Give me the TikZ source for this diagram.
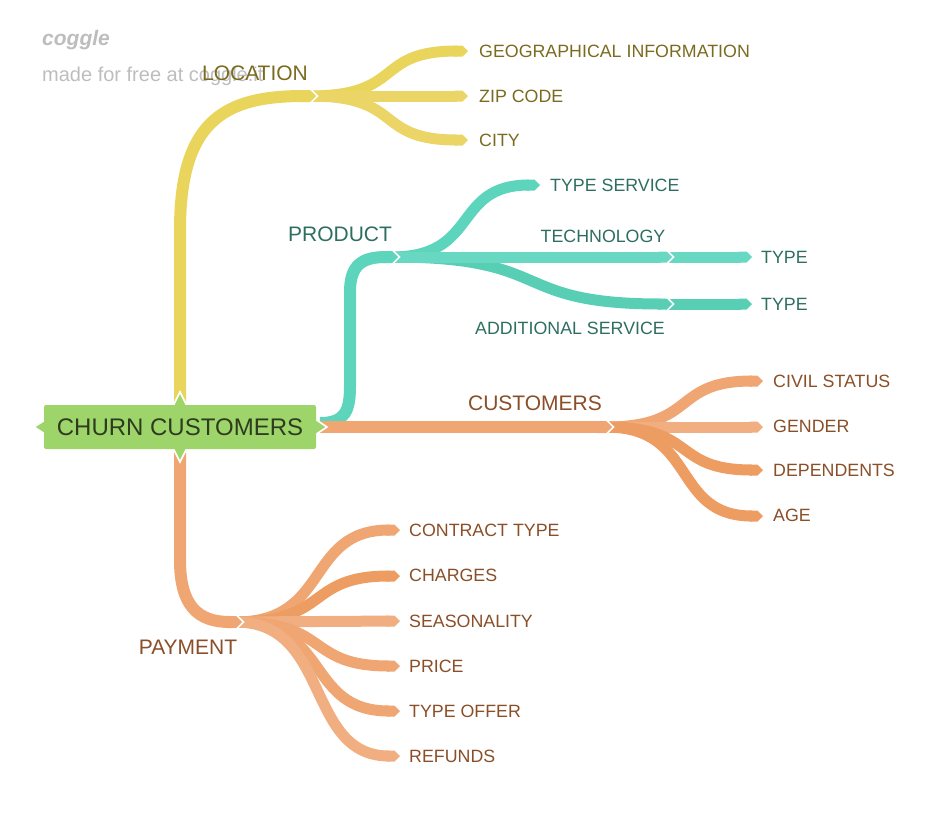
\documentclass[tikz,border=0pt]{standalone}
\usepackage{fontspec}
\setmainfont{Liberation Sans}
\usetikzlibrary{arrows.meta,calc}
\newcommand\myfs[1]{\fontsize{#1}{#1}\selectfont}
\definecolor{yel}{HTML}{E9D55B}
\definecolor{yelb}{HTML}{EAD566}
\definecolor{yeltxt}{HTML}{7A6B1F}
\definecolor{tea}{HTML}{5DD4BC}
\definecolor{teab}{HTML}{68D8C3}
\definecolor{teac}{HTML}{58CFB5}
\definecolor{teatxt}{HTML}{2E6E61}
\definecolor{ora}{HTML}{F0A672}
\definecolor{orab}{HTML}{EE9D62}
\definecolor{orac}{HTML}{F1AE80}
\definecolor{oratxt}{HTML}{8A4E28}
\definecolor{grn}{HTML}{9ED56B}
\definecolor{grntxt}{HTML}{2F3B1E}
\definecolor{wm}{HTML}{BDBDBD}
\begin{document}
\begin{tikzpicture}[x=1pt,y=-1pt,
  brmain/.style={line width=12pt,-{Triangle Cap}},
  brsub/.style={line width=11pt,-{Triangle Cap}},
  notchw/.style={draw=white,line width=1.6pt,line join=miter},
  sublab/.style={font=\myfs{17.8}, anchor=base west, inner sep=0pt},
  sublabc/.style={font=\myfs{17.8}, anchor=base, inner sep=0pt},
  mainlab/.style={font=\myfs{21}, anchor=base, inner sep=0pt},
]
\useasboundingbox (0,0) rectangle (940,815);

% watermark
\node[font=\myfs{21}\bfseries\itshape, text=wm, anchor=base west, inner sep=0pt] (logo) at (42,45) {coggle};
\node[font=\myfs{20}, text=wm, anchor=base west, inner sep=0pt] (made) at (42,81) {made for free at coggle.it};

% ---------- coordinates ----------
\coordinate (rootT) at (180,405);
\coordinate (rootB) at (180,450);
\coordinate (rootR) at (316,427);
\coordinate (rootRT) at (320,423);
\coordinate (locTip) at (316,96);
\coordinate (locS) at (310,96);
\coordinate (geoTip) at (468,51);
\coordinate (zipTip) at (468,96);
\coordinate (cityTip) at (468,140);
\coordinate (proTip) at (398,257);
\coordinate (proS) at (392,257);
\coordinate (tsTip) at (540,185);
\coordinate (tech1Tip) at (672,257);
\coordinate (tech1S) at (666,257);
\coordinate (tech2Tip) at (752,257);
\coordinate (add1Tip) at (672,304);
\coordinate (add1S) at (666,304);
\coordinate (add2Tip) at (752,304);
\coordinate (cusTip) at (612,427);
\coordinate (cusS) at (606,427);
\coordinate (civTip) at (763,381);
\coordinate (genTip) at (763,427);
\coordinate (depTip) at (763,470);
\coordinate (ageTip) at (763,516);
\coordinate (payTip) at (242,622);
\coordinate (payS) at (236,622);
\coordinate (conTip) at (400,530);
\coordinate (chaTip) at (400,576);
\coordinate (seaTip) at (400,621);
\coordinate (priTip) at (400,666);
\coordinate (tofTip) at (400,711);
\coordinate (refTip) at (400,756);

% ---------- LOCATION ----------
\draw[brsub, draw=yel]  (locS) .. controls +(95,0) and +(-95,0) .. (geoTip);
\draw[brsub, draw=yelb] (locS) -- (zipTip);
\draw[brsub, draw=yelb] (locS) .. controls +(95,0) and +(-95,0) .. (cityTip);
\draw[brmain, draw=yel] (rootT) -- (180,230) .. controls (180,120) and (225,96) .. (locTip);
\draw[notchw] ($(locTip)+(-5.6,-7)$) -- ($(locTip)+(1.4,0)$) -- ($(locTip)+(-5.6,7)$);

% ---------- PRODUCT ----------
\draw[brsub, draw=tea]  (proS) .. controls +(88,0) and +(-88,0) .. (tsTip);
\draw[brsub, draw=teac] (proS) .. controls +(165,0) and +(-165,0) .. (add1Tip);
\draw[brsub, draw=teab] (proS) -- (tech1Tip);
\draw[brsub, draw=teab] (tech1S) -- (tech2Tip);
\draw[brsub, draw=teac] (add1S) -- (add2Tip);
\draw[notchw] ($(tech1Tip)+(-5.6,-7)$) -- ($(tech1Tip)+(1.4,0)$) -- ($(tech1Tip)+(-5.6,7)$);
\draw[notchw] ($(add1Tip)+(-5.6,-7)$) -- ($(add1Tip)+(1.4,0)$) -- ($(add1Tip)+(-5.6,7)$);
\draw[brmain, draw=tea] (rootRT) .. controls (346,423) and (350,410) .. (350,385) -- (350,292) .. controls (350,265) and (362,257) .. (proTip);
\draw[notchw] ($(proTip)+(-5.6,-7)$) -- ($(proTip)+(1.4,0)$) -- ($(proTip)+(-5.6,7)$);

% ---------- CUSTOMERS ----------
\draw[brsub, draw=ora]  (cusS) .. controls +(92,0) and +(-92,0) .. (civTip);
\draw[brsub, draw=orac] (cusS) -- (genTip);
\draw[brsub, draw=orab] (cusS) .. controls +(92,0) and +(-92,0) .. (depTip);
\draw[brsub, draw=orab] (cusS) .. controls +(92,0) and +(-92,0) .. (ageTip);
\draw[brmain, draw=ora] (rootR) -- (cusTip);
\draw[notchw] ($(cusTip)+(-5.6,-7)$) -- ($(cusTip)+(1.4,0)$) -- ($(cusTip)+(-5.6,7)$);

% ---------- PAYMENT ----------
\draw[brsub, draw=ora]  (payS) .. controls +(95,0) and +(-95,0) .. (conTip);
\draw[brsub, draw=orab] (payS) .. controls +(95,0) and +(-95,0) .. (chaTip);
\draw[brsub, draw=orac] (payS) -- (seaTip);
\draw[brsub, draw=ora]  (payS) .. controls +(95,0) and +(-95,0) .. (priTip);
\draw[brsub, draw=ora]  (payS) .. controls +(95,0) and +(-95,0) .. (tofTip);
\draw[brsub, draw=orac] (payS) .. controls +(95,0) and +(-95,0) .. (refTip);
\draw[brmain, draw=ora] (rootB) -- (180,560) .. controls (180,606) and (198,622) .. (payTip);
\draw[notchw] ($(payTip)+(-5.6,-7)$) -- ($(payTip)+(1.4,0)$) -- ($(payTip)+(-5.6,7)$);

% ---------- root node ----------
\fill[grn] (173,406) -- (180,392) -- (187,406) -- cycle;
\draw[notchw] (173,406) -- (180,392) -- (187,406);
\fill[grn] (173,448) -- (180,462) -- (187,448) -- cycle;
\draw[notchw] (173,448) -- (180,462) -- (187,448);
\fill[grn] (315,419) -- (327,427) -- (315,435) -- cycle;
\draw[notchw] (315,419) -- (327,427) -- (315,435);
\fill[grn] (45,420) -- (34,427) -- (45,434) -- cycle;
\draw[notchw] (45,420) -- (34,427) -- (45,434);
\node[fill=grn, rounded corners=2pt, minimum width=272pt, minimum height=44pt, inner sep=0pt,
      font=\myfs{24}, text=grntxt] (root) at (180,427) {CHURN CUSTOMERS};

% ---------- labels ----------
\node[mainlab, text=yeltxt] (loc) at (255,80.5) {LOCATION};
\node[sublab, text=yeltxt] (geo) at (479,57.4) {GEOGRAPHICAL INFORMATION};
\node[sublab, text=yeltxt] (zip) at (479,102.4) {ZIP CODE};
\node[sublab, text=yeltxt] (city) at (479,146.4) {CITY};

\node[mainlab, text=teatxt] (pro) at (340,241.5) {PRODUCT};
\node[sublab, text=teatxt] (ts) at (550,191.4) {TYPE SERVICE};
\node[sublabc, text=teatxt] (tech) at (603,242.4) {TECHNOLOGY};
\node[sublab, text=teatxt] (type1) at (761,263.4) {TYPE};
\node[sublab, text=teatxt] (type2) at (761,310.4) {TYPE};
\node[sublabc, text=teatxt] (add) at (570,334.4) {ADDITIONAL SERVICE};

\node[mainlab, text=oratxt] (cus) at (535,410.5) {CUSTOMERS};
\node[sublab, text=oratxt] (civ) at (773,387.4) {CIVIL STATUS};
\node[sublab, text=oratxt] (gen) at (773,432.4) {GENDER};
\node[sublab, text=oratxt] (dep) at (773,476.4) {DEPENDENTS};
\node[sublab, text=oratxt] (age) at (773,521.4) {AGE};

\node[mainlab, text=oratxt] (pay) at (188,654.5) {PAYMENT};
\node[sublab, text=oratxt] (con) at (409,536.4) {CONTRACT TYPE};
\node[sublab, text=oratxt] (cha) at (409,581.4) {CHARGES};
\node[sublab, text=oratxt] (sea) at (409,627.4) {SEASONALITY};
\node[sublab, text=oratxt] (pri) at (409,672.4) {PRICE};
\node[sublab, text=oratxt] (tof) at (409,717.4) {TYPE OFFER};
\node[sublab, text=oratxt] (ref) at (409,762.4) {REFUNDS};
\end{tikzpicture}
\end{document}
